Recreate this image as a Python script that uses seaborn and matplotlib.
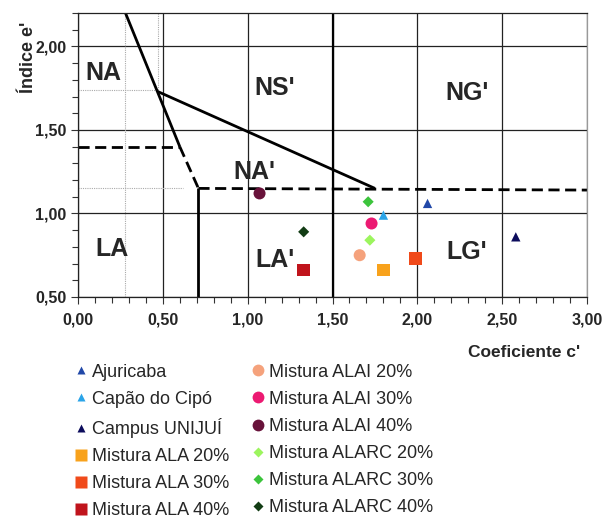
import matplotlib
matplotlib.use("Agg")
import matplotlib.pyplot as plt
import seaborn as sns
import pandas as pd
from matplotlib.lines import Line2D
from matplotlib.ticker import MultipleLocator, FuncFormatter

sns.set_style("white")
plt.rcParams['font.family'] = ['Liberation Sans', 'DejaVu Sans']

# ---- data ----
series = ["Ajuricaba", "Capão do Cipó", "Campus UNIJUÍ",
          "Mistura ALA 20%", "Mistura ALA 30%", "Mistura ALA 40%",
          "Mistura ALAI 20%", "Mistura ALAI 30%", "Mistura ALAI 40%",
          "Mistura ALARC 20%", "Mistura ALARC 30%", "Mistura ALARC 40%"]
c_values = [2.06, 1.80, 2.58, 1.80, 1.99, 1.33, 1.66, 1.73, 1.07, 1.72, 1.71, 1.33]
e_values = [1.06, 0.99, 0.86, 0.66, 0.73, 0.66, 0.75, 0.94, 1.12, 0.84, 1.07, 0.89]
colors = ["#2148A8", "#2AA4E8", "#0C0C5C",
          "#F8A21C", "#F04A1A", "#C0141C",
          "#F5A27C", "#EC1A72", "#68123A",
          "#9CF55E", "#3CC43C", "#123C14"]
markers = ["^", "^", "^", "s", "s", "s", "o", "o", "o", "D", "D", "D"]

# classification chart boundaries (MCT)
solid_lines = [([0.28, 0.60], [2.20, 1.40]),
               ([0.47, 1.75], [1.73, 1.15]),
               ([0.71, 0.71], [1.15, 0.50])]
dashed_lines = [([0.60, 0.71], [1.40, 1.15]),
                ([0.00, 0.60], [1.40, 1.40]),
                ([0.71, 3.00], [1.15, 1.14])]
dotted_lines = [([0.28, 0.28], [0.50, 2.20]),
                ([0.47, 0.47], [1.73, 2.20]),
                ([0.00, 0.47], [1.74, 1.74]),
                ([0.00, 0.62], [1.15, 1.15])]
region_labels = ["NA", "NS'", "NG'", "NA'", "LA", "LA'", "LG'"]
region_x = [0.15, 1.16, 2.29, 1.04, 0.20, 1.16, 2.29]
region_y = [1.84, 1.75, 1.72, 1.25, 0.79, 0.72, 0.77]

df = pd.DataFrame({"serie": series, "c": c_values, "e": e_values})

fig = plt.figure(figsize=(6.09, 5.21), dpi=100)
ax = fig.add_axes([0.128, 0.430, 0.836, 0.545])

ax.set_xlim(0, 3)
ax.set_ylim(0.5, 2.2)
ax.xaxis.set_major_locator(MultipleLocator(0.5))
ax.yaxis.set_major_locator(MultipleLocator(0.5))
ax.xaxis.set_minor_locator(MultipleLocator(0.1))
ax.yaxis.set_minor_locator(MultipleLocator(0.1))
fmt = FuncFormatter(lambda v, p: f"{v:.2f}".replace(".", ","))
ax.xaxis.set_major_formatter(fmt)
ax.yaxis.set_major_formatter(fmt)
ax.grid(True, which="major", color="#222222", lw=0.9)
ax.set_axisbelow(True)
ax.tick_params(which="both", direction="out", bottom=True, left=True,
               color="#333333", width=0.8)
ax.tick_params(which="major", length=5, labelsize=11.5)
ax.tick_params(axis="x", which="major", pad=6)
ax.tick_params(which="minor", length=4)
for lab in ax.get_xticklabels() + ax.get_yticklabels():
    lab.set_fontweight("bold")
for s in ax.spines.values():
    s.set_color("#222222")
    s.set_linewidth(0.9)
ax.spines["right"].set_color("#999999")

# boundaries
ax.axvline(1.5, color="black", lw=1.6, zorder=1.5)
for xs, ys in dotted_lines:
    ax.plot(xs, ys, color="#AAAAAA", lw=0.8, ls=(0, (1, 1)), zorder=1)
for xs, ys in solid_lines:
    ax.plot(xs, ys, color="black", lw=2.0, solid_capstyle="butt", zorder=2)
for xs, ys in dashed_lines:
    ax.plot(xs, ys, color="black", lw=2.0, dashes=(4, 2), zorder=2)

sizes = {"^": 45, "s": 80, "o": 75, "D": 32}
for i, row in df.iterrows():
    sns.scatterplot(data=df.iloc[[i]], x="c", y="e", ax=ax, marker=markers[i],
                    color=colors[i], s=sizes[markers[i]], edgecolor="none",
                    legend=False, zorder=3)

for t, x, y in zip(region_labels, region_x, region_y):
    ax.text(x, y, t, fontsize=18, fontweight="bold", ha="center", va="center")

ax.set_xlabel("")
ax.set_ylabel("")
fig.text(0.046, 0.89, "Índice e'", fontsize=13, fontweight="bold",
         rotation=90, ha="center", va="center")
fig.text(0.952, 0.324, "Coeficiente c'", fontsize=12.5, fontweight="bold",
         ha="right", va="center")

lsize = {"^": 6, "s": 8.5, "o": 8.5, "D": 5}
handles = [Line2D([], [], ls="none", marker=m, color=c, markeredgecolor="none",
                  markersize=lsize[m]) for m, c in zip(markers, colors)]
fig.legend(handles, series, ncol=2, loc="upper left",
           bbox_to_anchor=(0.124, 0.302), frameon=False, fontsize=13,
           handlelength=0.6, handletextpad=0.3, labelspacing=0.56,
           columnspacing=1.3, borderpad=0, borderaxespad=0)

fig.savefig("out.png", dpi=100)
